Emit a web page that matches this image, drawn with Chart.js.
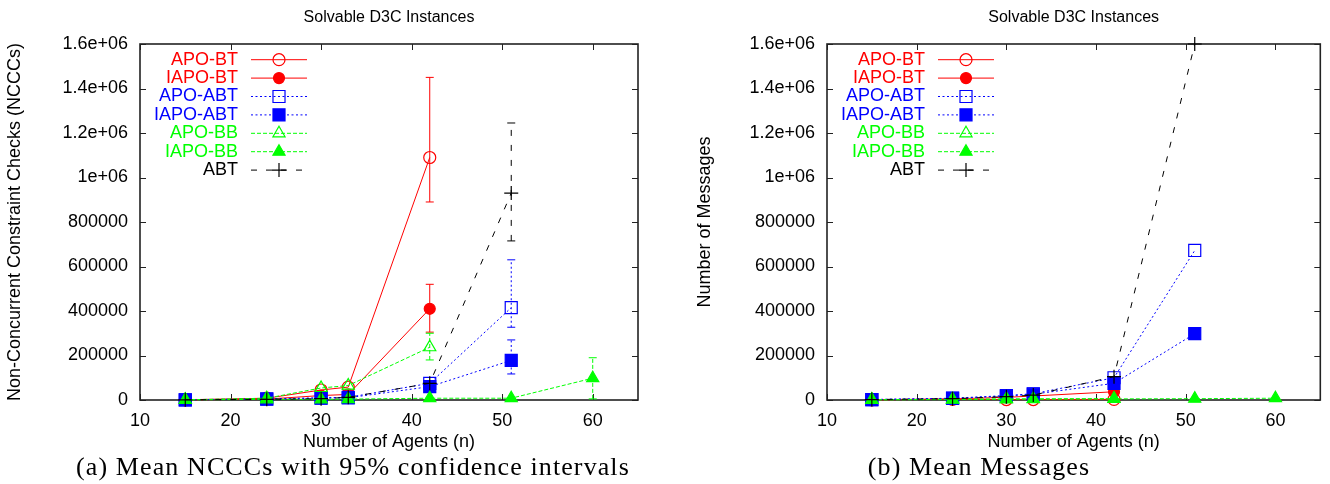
<!DOCTYPE html>
<html>
<head>
<script src="https://cdn.jsdelivr.net/npm/chart.js@4/dist/chart.umd.min.js"></script>
<style>
    body { margin: 0; background: #fff; width: 1330px; height: 484px; position: relative; overflow: hidden; }
    .pane { position: absolute; top: 0; width: 665px; height: 455px; }
    .caption { position: absolute; top: 453px; line-height: 28px; font-family: "Liberation Serif", serif;
               font-size: 26px; letter-spacing: 1.1px; white-space: nowrap; transform: translateX(-50%); }
</style>
</head>
<body>
<div class="pane" style="left:0"><canvas id="nccc"></canvas></div>
<div class="pane" style="left:665px"><canvas id="msgs"></canvas></div>
<div class="caption" style="left:353px">(a) Mean NCCCs with 95% confidence intervals</div>
<div class="caption" style="left:979px">(b) Mean Messages</div>
<script>
// agent counts on the x axis (series that stop early just have shorter lists)
var agents = [15, 24, 30, 33, 42, 51, 60];
var seriesNames = ['APO-BT', 'IAPO-BT', 'APO-ABT', 'IAPO-ABT', 'APO-BB', 'IAPO-BB', 'ABT'];
var yTickLabels = ['0', '200000', '400000', '600000', '800000', '1e+06', '1.2e+06', '1.4e+06', '1.6e+06'];

// (a) mean NCCCs
var ncccApoBT   = [1000, 8000, 45000, 58000, 1090000];
var ncccIapoBT  = [500, 4000, 20000, 25000, 410000];
var ncccApoABT  = [1000, 5000, 10000, 12000, 75000, 415000];
var ncccIapoABT = [800, 4000, 8000, 10000, 60000, 178000];
var ncccApoBB   = [1000, 8000, 54000, 65000, 237000];
var ncccIapoBB  = [500, 3000, 3000, 4000, 8000, 8000, 98000];
var ncccABT     = [1000, 3000, 6000, 12000, 75000, 930000];

// 95% confidence intervals [low, high], null where too short to see
var ciApoBT   = [null, null, null, null, [890000, 1450000]];
var ciIapoBT  = [null, null, null, null, [305000, 520000]];
var ciApoABT  = [null, null, null, null, null, [327000, 630000]];
var ciIapoABT = [null, null, null, null, null, [117000, 270000]];
var ciApoBB   = [null, null, null, null, [180000, 300000]];
var ciIapoBB  = [null, null, null, null, null, null, [5000, 190000]];
var ciABT     = [null, null, null, null, null, [715000, 1245000]];

// (b) mean messages
var msgApoBT   = [1000, 3000, 2000, 2000, 3000];
var msgIapoBT  = [1000, 5000, 12000, 18000, 37000];
var msgApoABT  = [2000, 8000, 20000, 28000, 100000, 672000];
var msgIapoABT = [2000, 7000, 18000, 26000, 75000, 298000];
var msgApoBB   = [1000, 3000, 5000, 5000, 6000];
var msgIapoBB  = [1000, 2000, 3000, 4000, 5000, 6000, 8000];
var msgABT     = [2000, 6000, 15000, 22000, 105000, 1600000];

// gnuplot-ish line types
var lineStyles = [
    { color: '#ff0000', dash: [],       marker: 'circle',   filled: false, radius: 6 },
    { color: '#ff0000', dash: [],       marker: 'circle',   filled: true,  radius: 5.5 },
    { color: '#0000ff', dash: [2, 2.5], marker: 'rect',     filled: false, radius: 8.5 },
    { color: '#0000ff', dash: [2, 2.5], marker: 'rect',     filled: true,  radius: 8.5 },
    { color: '#00ff00', dash: [4, 2],   marker: 'triangle', filled: false, radius: 7 },
    { color: '#00ff00', dash: [4, 2],   marker: 'triangle', filled: true,  radius: 7 },
    { color: '#000000', dash: [6, 9],   marker: 'cross',    filled: false, radius: 7 }
];

var FONT = '"Liberation Sans", Arial, sans-serif';
Chart.defaults.color = '#000';
Chart.defaults.font.family = FONT;

function makeDatasets(valueLists, ciLists) {
    return valueLists.map(function (vals, i) {
        var st = lineStyles[i];
        return {
            label: seriesNames[i],
            data: vals.map(function (v, j) { return { x: agents[j], y: v }; }),
            errorBars: ciLists ? ciLists[i] : null,
            borderColor: st.color,
            borderWidth: 1,
            borderDash: st.dash,
            pointStyle: st.marker,
            pointRadius: st.radius,
            pointBorderWidth: 1.2,
            pointBorderColor: st.color,
            pointBackgroundColor: st.filled ? st.color : 'rgba(0,0,0,0)',
            tension: 0,
            clip: false,
            order: 7 - i
        };
    });
}

// border box with inward ticks on all four sides
var framePlugin = {
    id: 'frame',
    beforeDatasetsDraw: function (chart) {
        var a = chart.chartArea, ctx = chart.ctx, xs = chart.scales.x, ys = chart.scales.y;
        ctx.save();
        ctx.strokeStyle = '#222';
        ctx.lineWidth = 1;
        ctx.beginPath();
        xs.ticks.forEach(function (t) {
            var px = Math.round(xs.getPixelForValue(t.value)) + 0.5;
            ctx.moveTo(px, a.bottom); ctx.lineTo(px, a.bottom - 6);
            ctx.moveTo(px, a.top); ctx.lineTo(px, a.top + 6);
        });
        ys.ticks.forEach(function (t) {
            var py = Math.round(ys.getPixelForValue(t.value)) + 0.5;
            ctx.moveTo(a.left, py); ctx.lineTo(a.left + 6, py);
            ctx.moveTo(a.right, py); ctx.lineTo(a.right - 6, py);
        });
        ctx.stroke();
        ctx.lineWidth = 1.6;
        ctx.strokeRect(a.left, a.top, a.right - a.left, a.bottom - a.top);
        ctx.restore();
    }
};

var errorBarPlugin = {
    id: 'errorBars',
    afterDatasetsDraw: function (chart) {
        var ctx = chart.ctx, xs = chart.scales.x, ys = chart.scales.y;
        ctx.save();
        chart.data.datasets.forEach(function (ds) {
            if (!ds.errorBars) return;
            ds.errorBars.forEach(function (ci, j) {
                if (!ci) return;
                var px = xs.getPixelForValue(agents[j]);
                var lo = ys.getPixelForValue(ci[0]), hi = ys.getPixelForValue(ci[1]);
                ctx.strokeStyle = ds.borderColor;
                ctx.lineWidth = 1;
                ctx.setLineDash(ds.borderDash);
                ctx.beginPath(); ctx.moveTo(px, lo); ctx.lineTo(px, hi); ctx.stroke();
                ctx.setLineDash([]);
                ctx.beginPath();
                ctx.moveTo(px - 4, lo); ctx.lineTo(px + 4, lo);
                ctx.moveTo(px - 4, hi); ctx.lineTo(px + 4, hi);
                ctx.stroke();
            });
        });
        ctx.restore();
    }
};

// key in the top-left corner: label, then line sample with the marker
var keyPlugin = {
    id: 'gnuKey',
    afterDraw: function (chart) {
        var a = chart.chartArea, ctx = chart.ctx;
        ctx.save();
        ctx.font = '18px ' + FONT;
        ctx.textAlign = 'right';
        ctx.textBaseline = 'middle';
        chart.data.datasets.forEach(function (ds, i) {
            var y = a.top + 15.7 + i * 18.4;
            ctx.fillStyle = ds.borderColor;
            ctx.fillText(ds.label, a.left + 98, y);
            ctx.strokeStyle = ds.borderColor;
            ctx.lineWidth = 1;
            ctx.setLineDash(ds.borderDash);
            ctx.beginPath(); ctx.moveTo(a.left + 111, y); ctx.lineTo(a.left + 167, y); ctx.stroke();
            ctx.setLineDash([]);
            ctx.fillStyle = ds.pointBackgroundColor;
            ctx.lineWidth = ds.pointBorderWidth;
            Chart.helpers.drawPoint(ctx, {
                pointStyle: ds.pointStyle, radius: ds.pointRadius, rotation: 0, borderWidth: ds.pointBorderWidth
            }, a.left + 139, y);
        });
        ctx.restore();
    }
};

function makeChart(id, datasets, yTitle, yWidth, yTitlePad, rightPad) {
    return new Chart(document.getElementById(id), {
        type: 'line',
        data: { datasets: datasets },
        options: {
            responsive: true,
            maintainAspectRatio: false,
            animation: false,
            layout: { padding: { left: 0, right: rightPad, top: 0, bottom: 0 } },
            plugins: {
                legend: { display: false },
                tooltip: { enabled: false },
                title: {
                    display: true,
                    text: 'Solvable D3C Instances',
                    fullSize: false,
                    font: { size: 16, weight: 'normal', lineHeight: 1.2 },
                    padding: { top: 8, bottom: 16.8 }
                }
            },
            scales: {
                x: {
                    type: 'linear',
                    min: 10, max: 65,
                    grid: { display: false, drawTicks: false },
                    border: { display: false },
                    ticks: { stepSize: 10, includeBounds: false, padding: 10, font: { size: 18 } },
                    title: {
                        display: true, text: 'Number of Agents (n)',
                        font: { size: 18, lineHeight: 1.2 }, padding: { top: 0, bottom: 2 }
                    },
                    afterFit: function (s) { s.height = 55; }
                },
                y: {
                    min: 0, max: 1600000,
                    grid: { display: false, drawTicks: false },
                    border: { display: false },
                    ticks: {
                        stepSize: 200000, padding: 12, font: { size: 18 },
                        callback: function (v, i) { return yTickLabels[i]; }
                    },
                    title: {
                        display: true, text: yTitle,
                        font: { size: 18, lineHeight: 1.2 }, padding: { top: yTitlePad, bottom: 0 }
                    },
                    afterFit: function (s) { s.width = yWidth; }
                }
            }
        },
        plugins: [framePlugin, errorBarPlugin, keyPlugin]
    });
}

makeChart('nccc',
    makeDatasets([ncccApoBT, ncccIapoBT, ncccApoABT, ncccIapoABT, ncccApoBB, ncccIapoBB, ncccABT],
                 [ciApoBT, ciIapoBT, ciApoABT, ciIapoABT, ciApoBB, ciIapoBB, ciABT]),
    'Non-Concurrent Constraint Checks (NCCCs)', 140, 4, 27);

makeChart('msgs',
    makeDatasets([msgApoBT, msgIapoBT, msgApoABT, msgIapoABT, msgApoBB, msgIapoBB, msgABT], null),
    'Number of Messages', 162, 29, 4);
</script>
</body>
</html>
